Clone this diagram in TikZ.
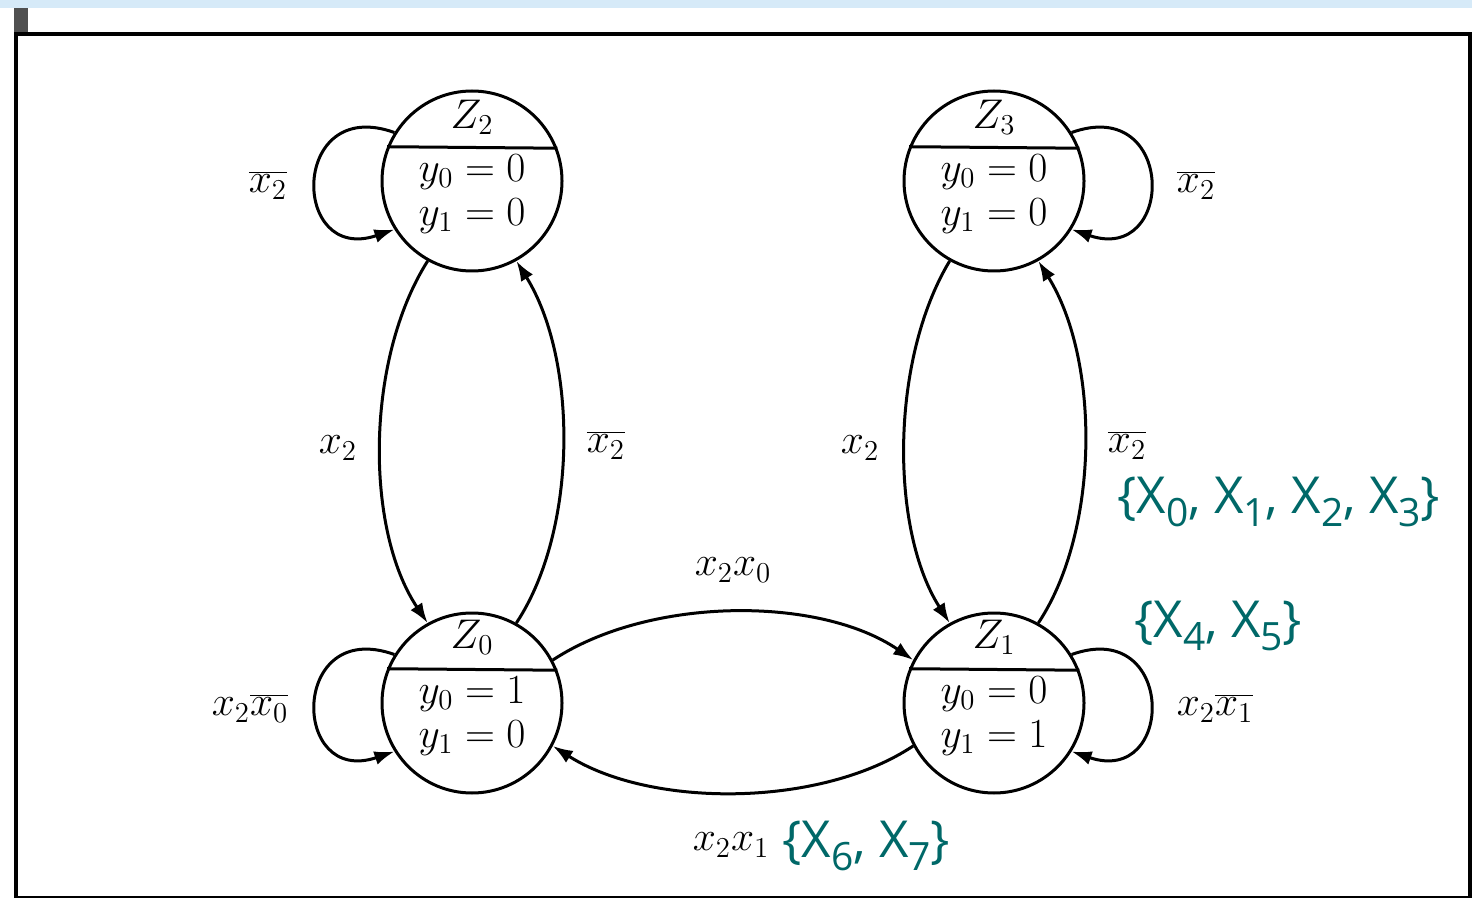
\documentclass[tikz,border=0pt]{standalone}
\usepackage{fontspec}
\usetikzlibrary{arrows.meta}
\newfontfamily\tealfont{Open Sans}
\definecolor{bandblue}{RGB}{214,234,248}
\definecolor{tealc}{RGB}{0,104,104}
\definecolor{blockgray}{RGB}{80,80,80}
\newcommand\sbx[1]{\raisebox{-6.5pt}{\fontsize{19.5}{19.5}\selectfont #1}}
\begin{document}
\begin{tikzpicture}[x=0.5pt,y=-0.5pt,
  statec/.style={circle,draw,line width=1.5pt,minimum size=90pt,inner sep=0pt},
  edge/.style={line width=1.5pt,-{Latex[length=10pt,width=7pt]}},
  lbl/.style={inner sep=0pt,font=\fontsize{20.5}{24}\selectfont},
  teal/.style={inner sep=0pt,text=tealc,anchor=base west,font=\tealfont\fontsize{25.5}{28}\selectfont}]
\useasboundingbox (0,0) rectangle (1472,898);
\fill[bandblue] (0,0) rectangle (1472,8);
\fill[blockgray] (14,8) rectangle (28,35);
\draw[line width=1.7pt] (16,34) -- (1470,34) -- (1470,897.5) -- (16,897.5) -- cycle;

% states
\node[statec] (Z2) at (472,181) {};
\node[statec] (Z3) at (994,181) {};
\node[statec] (Z0) at (472,703) {};
\node[statec] (Z1) at (994,703) {};
\foreach \s in {Z0,Z1,Z2,Z3}{\draw[line width=1.5pt] (\s.158.5) -- (\s.21.5);}

\node[lbl] (Z2t) at (472,117) {$Z_2$};
\node[lbl] (Z2a) at (472,172) {$y_0=0$};
\node[lbl] (Z2b) at (472,216) {$y_1=0$};
\node[lbl] (Z3t) at (994,117) {$Z_3$};
\node[lbl] (Z3a) at (994,172) {$y_0=0$};
\node[lbl] (Z3b) at (994,216) {$y_1=0$};
\node[lbl] (Z0t) at (472,637) {$Z_0$};
\node[lbl] (Z0a) at (472,694) {$y_0=1$};
\node[lbl] (Z0b) at (472,738) {$y_1=0$};
\node[lbl] (Z1t) at (994,637) {$Z_1$};
\node[lbl] (Z1a) at (994,694) {$y_0=0$};
\node[lbl] (Z1b) at (994,738) {$y_1=1$};

% self loops
\draw[edge] (Z2.148) .. controls (290,95) and (290,265) .. (Z2.212);
\draw[edge] (Z0.148) .. controls (290,617) and (290,787) .. (Z0.212);
\draw[edge] (Z3.32) .. controls (1176,95) and (1176,265) .. (Z3.328);
\draw[edge] (Z1.32) .. controls (1176,617) and (1176,787) .. (Z1.328);

% vertical edges
\draw[edge] (Z2.241) .. controls (365,360) and (365,530) .. (Z0.119);
\draw[edge] (Z0.61) .. controls (578,530) and (578,360) .. (Z2.299);
\draw[edge] (Z3.241) .. controls (890,360) and (890,530) .. (Z1.119);
\draw[edge] (Z1.61) .. controls (1100,530) and (1100,360) .. (Z3.299);

% horizontal edges
\draw[edge] (Z0.28) .. controls (650,596) and (820,596) .. (Z1.152);
\draw[edge] (Z1.208) .. controls (820,808) and (650,808) .. (Z0.332);

% edge labels
\node[lbl] (l1) at (268,185) {$\overline{x_2}$};
\node[lbl] (l2) at (250,708) {$x_2\overline{x_0}$};
\node[lbl] (l3) at (1196,185) {$\overline{x_2}$};
\node[lbl] (l4) at (1215,708) {$x_2\overline{x_1}$};
\node[lbl] (l5) at (338,448) {$x_2$};
\node[lbl] (l6) at (606,445) {$\overline{x_2}$};
\node[lbl] (l7) at (860,448) {$x_2$};
\node[lbl] (l8) at (1127,445) {$\overline{x_2}$};
\node[lbl] (l9) at (733,570) {$x_2x_0$};
\node[lbl] (l10) at (731,845) {$x_2x_1$};

% teal annotations
\node[teal] (t1) at (1117,513) {\{X\sbx{0}, X\sbx{1}, X\sbx{2}, X\sbx{3}\}};
\node[teal] (t2) at (1134,637) {\{X\sbx{4}, X\sbx{5}\}};
\node[teal] (t3) at (782,857) {\{X\sbx{6}, X\sbx{7}\}};
\end{tikzpicture}
\end{document}
